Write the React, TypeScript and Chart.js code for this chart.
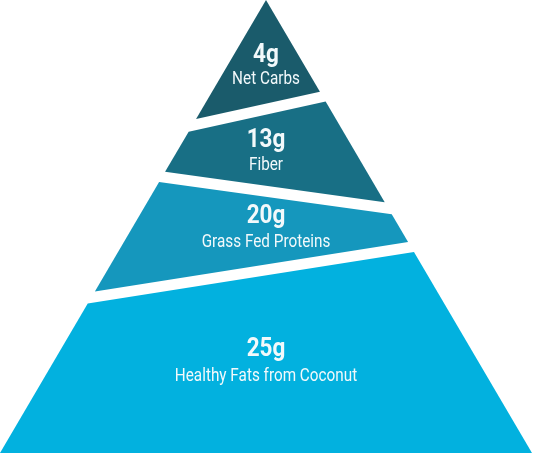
import React, { useEffect, useRef } from 'react';
import { Chart, registerables } from 'chart.js';

Chart.register(...registerables);

// pyramid levels, top to bottom
const amounts = ['4g', '13g', '20g', '25g'];
const nutrients = ['Net Carbs', 'Fiber', 'Grass Fed Proteins', 'Healthy Fats from Coconut'];
const colors = ['#1a5b6b', '#186f85', '#1597bd', '#02b1df'];

// pyramid geometry (in canvas units)
const APEX_X = 266;
const BASE_Y = 453;
const BASE_HALF = 266;
const GAP = 11;
// separators between levels: y at the centre line and tilt
const sepCenter = [109.2, 191.3, 269.9];
const sepSlope = [-0.22, 0.138, -0.158];
// text baselines for each level (number, label)
const numberY = [62, 146.5, 223, 356];
const labelY = [84, 169.5, 247, 381];

const K = BASE_HALF / BASE_Y;

// where the line y = c + s*(x - APEX_X) crosses the left / right side
const cross = (c: number, s: number) => {
  const yl = c / (1 + s * K);
  const yr = c / (1 - s * K);
  return [
    { x: APEX_X - K * yl, y: yl },
    { x: APEX_X + K * yr, y: yr },
  ];
};

const levelShape = (i: number) => {
  const pts: { x: number; y: number }[] = [];
  if (i === 0) {
    pts.push({ x: APEX_X, y: 0 });
  } else {
    const [l, r] = cross(sepCenter[i - 1] + GAP / 2, sepSlope[i - 1]);
    pts.push(l, r);
  }
  if (i === amounts.length - 1) {
    pts.push({ x: APEX_X + BASE_HALF, y: BASE_Y }, { x: APEX_X - BASE_HALF, y: BASE_Y });
  } else {
    const [l, r] = cross(sepCenter[i] - GAP / 2, sepSlope[i]);
    pts.push(r, l);
  }
  pts.push({ ...pts[0] });
  return pts;
};

const textPlugin = {
  id: 'pyramidText',
  afterDatasetsDraw(chart: Chart) {
    const { ctx, scales } = chart;
    const cx = scales.x.getPixelForValue(APEX_X);
    ctx.save();
    ctx.fillStyle = '#f2f9fb';
    ctx.textAlign = 'center';
    ctx.textBaseline = 'alphabetic';
    amounts.forEach((amt, i) => {
      ctx.save();
      ctx.translate(cx, scales.y.getPixelForValue(numberY[i]));
      ctx.scale(0.9, 1);
      ctx.font = 'bold 25px Roboto';
      ctx.fillText(amt, 0, 0);
      ctx.restore();

      ctx.save();
      ctx.translate(cx, scales.y.getPixelForValue(labelY[i]));
      ctx.scale(0.85, 1);
      ctx.font = '18px Roboto';
      ctx.fillText(nutrients[i], 0, 0);
      ctx.restore();
    });
    ctx.restore();
  },
};

const App: React.FC = () => {
  const chartRef = useRef<HTMLCanvasElement | null>(null);
  const chartInstance = useRef<Chart | null>(null);

  useEffect(() => {
    document.body.style.margin = '0';
    if (!chartRef.current) return;

    chartInstance.current = new Chart(chartRef.current, {
      type: 'scatter',
      data: {
        datasets: amounts.map((amt, i) => ({
          label: nutrients[i],
          data: levelShape(i),
          showLine: true,
          fill: 'shape',
          backgroundColor: colors[i],
          borderColor: colors[i],
          borderWidth: 0,
          pointRadius: 0,
          tension: 0,
        })),
      },
      options: {
        animation: false,
        responsive: true,
        maintainAspectRatio: false,
        layout: { padding: 0 },
        plugins: {
          legend: { display: false },
          tooltip: { enabled: false },
        },
        scales: {
          x: { type: 'linear', min: 0, max: 547, display: false },
          y: { type: 'linear', min: 0, max: 476, reverse: true, display: false },
        },
      },
      plugins: [textPlugin],
    });

    return () => {
      chartInstance.current?.destroy();
      chartInstance.current = null;
    };
  }, []);

  return (
    <div style={{ width: 547, height: 476, position: 'relative', background: '#fff' }}>
      <canvas ref={chartRef}></canvas>
    </div>
  );
};

export default App;
